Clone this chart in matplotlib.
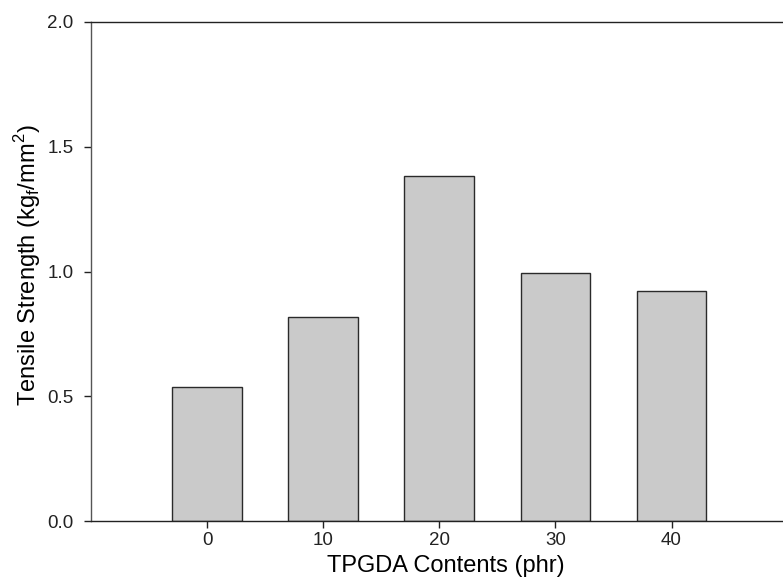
#!/usr/bin/env python3
"""Tensile strength vs TPGDA content bar chart."""
import matplotlib
matplotlib.use('Agg')
import matplotlib.pyplot as plt

# Data
contents = [0, 10, 20, 30, 40]
tensile = [0.536, 0.819, 1.383, 0.995, 0.922]
x_ticks = [0, 10, 20, 30, 40]
y_ticks = [0.0, 0.5, 1.0, 1.5, 2.0]

plt.rcParams['font.family'] = ['Liberation Sans', 'DejaVu Sans']

fig = plt.figure(figsize=(7.83, 5.80), dpi=100)
ax = fig.add_axes([91 / 783, 1 - 521 / 580, 1 - 91 / 783, (521 - 22) / 580])

ax.bar(contents, tensile, width=6, color='#cacaca', edgecolor='#2a2a2a', linewidth=1.0)

ax.set_xlim(-10, 49.6)
ax.set_ylim(0, 2.0)
ax.set_xticks(x_ticks)
ax.set_yticks(y_ticks)
ax.set_yticklabels([f'{v:.1f}' for v in y_ticks])

ax.spines['right'].set_visible(False)
ax.spines['left'].set_color('#555555')
for s in ['left', 'top', 'bottom']:
    ax.spines[s].set_linewidth(1.0)
ax.spines['top'].set_color('#222222')
ax.spines['bottom'].set_color('#222222')

ax.tick_params(direction='out', length=5, width=1.0, labelsize=13.5, colors='#222222')
ax.tick_params(axis='x', pad=3)
ax.tick_params(axis='y', pad=7.5)

# Подписи осей
ax.set_xlabel('TPGDA Contents (phr)', fontsize=17, labelpad=5)
ax.set_ylabel(r'Tensile Strength (kg$_\mathregular{f}$/mm$^\mathregular{2}$)', fontsize=17, labelpad=3)
ax.yaxis.set_label_coords(-0.07, 0.513)
ax.xaxis.set_label_coords(0.513, -0.068)

fig.savefig('out.png', dpi=100)
